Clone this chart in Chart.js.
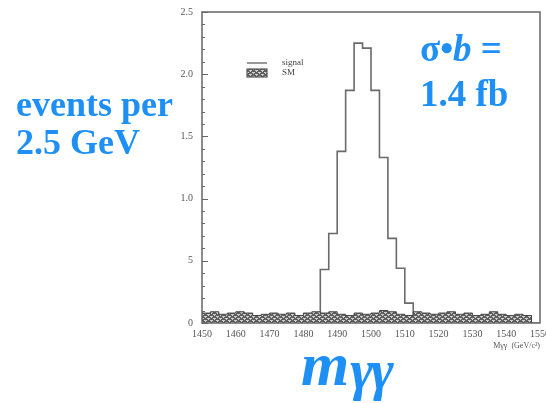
<!DOCTYPE html>
<html>
<head>
<meta charset="utf-8">
<script src="https://cdn.jsdelivr.net/npm/chart.js@4.4.0/dist/chart.umd.min.js"></script>
<style>
  body { margin: 0; background: #fff; }
  #wrap { position: relative; width: 546px; height: 403px; overflow: hidden; }
  #chart { position: absolute; left: 0; top: 0; }
  .note { position: absolute; color: #1e90f5; font-family: "Liberation Serif", "DejaVu Serif", serif; font-weight: bold; white-space: nowrap; }
</style>
</head>
<body>
<div id="wrap">
  <canvas id="chart" width="546" height="403"></canvas>
  <div class="note" style="left:16px; top:85px; font-size:36px; line-height:38px;">events per<br>2.5 GeV</div>
  <div class="note" style="left:420px; top:26px; font-size:37px; line-height:45px;">σ•<i>b</i> =<br>1.4 fb</div>
  <div class="note" style="left:301px; top:331px; font-size:62px; line-height:66px; font-style:italic; letter-spacing:1px;">m<span style="font-size:56px; position:relative; top:4px; letter-spacing:-3px;">γγ</span></div>
</div>
<script>
// histogram binning
const binWidth = 2.5;

// SM background, bins from 1450 to 1550
const smStart = 1450;
const smValues = [0.09, 0.08, 0.09, 0.07, 0.08, 0.09, 0.08, 0.06, 0.07, 0.08,
                  0.07, 0.08, 0.06, 0.08, 0.09, 0.08, 0.09, 0.07, 0.06, 0.08,
                  0.07, 0.08, 0.10, 0.09, 0.07, 0.06, 0.09, 0.08, 0.07, 0.08,
                  0.09, 0.07, 0.08, 0.06, 0.07, 0.09, 0.07, 0.06, 0.07, 0.06];

// signal, bins from 1485 to 1515
const signalStart = 1485;
const signalValues = [0.16, 0.43, 0.72, 1.38, 1.87, 2.25, 2.21, 1.87, 1.33, 0.68, 0.44, 0.16];

const xTickLabels = ["1450", "1460", "1470", "1480", "1490", "1500", "1510", "1520", "1530", "1540", "1550"];
const yTickValues = [0, 0.5, 1, 1.5, 2, 2.5];
const yTickLabels = ["0", "5", "1.0", "1.5", "2.0", "2.5"];

const legendLabels = ["signal", "SM"];

function stepPoints(start, values) {
    const pts = [{ x: start, y: 0 }];
    values.forEach((v, i) => pts.push({ x: start + i * binWidth, y: v }));
    pts.push({ x: start + values.length * binWidth, y: 0 });
    return pts;
}

const canvas = document.getElementById("chart");
const ctx = canvas.getContext("2d");

function makeHatch() {
    const c = document.createElement("canvas");
    c.width = 6;
    c.height = 4;
    const g = c.getContext("2d");
    g.fillStyle = "#5e5e5e";
    g.fillRect(0, 0, 6, 4);
    g.fillStyle = "#cfcfcf";
    g.fillRect(0, 0, 3, 1);
    g.fillRect(3, 2, 3, 1);
    g.fillRect(1, 1, 1, 1);
    g.fillRect(4, 3, 1, 1);
    return ctx.createPattern(c, "repeat");
}
const hatch = makeHatch();

const axisColor = "#666";
const labelFont = { family: "'Liberation Serif', 'DejaVu Serif', serif", size: 10 };

// frame box, inward ticks, legend
const framePlugin = {
    id: "frame",
    afterDatasetsDraw(chart) {
        const a = chart.chartArea;
        const c = chart.ctx;
        const y = chart.scales.y;
        c.save();
        c.strokeStyle = axisColor;
        c.lineWidth = 1.5;
        c.strokeRect(a.left, a.top, a.right - a.left, a.bottom - a.top);

        c.lineWidth = 1;
        for (let i = 0; i <= 25; i++) {
            const py = Math.round(y.getPixelForValue(i / 10)) + 0.5;
            const len = i % 5 === 0 ? 6 : 3;
            c.beginPath();
            c.moveTo(a.left, py);
            c.lineTo(a.left + len, py);
            c.stroke();
        }

        // legend
        const lx = a.left + 45, ly = 63;
        c.strokeStyle = "#555";
        c.lineWidth = 1.2;
        c.beginPath();
        c.moveTo(lx, ly);
        c.lineTo(lx + 20, ly);
        c.stroke();
        c.fillStyle = hatch;
        c.fillRect(lx, ly + 6, 20, 8);
        c.strokeRect(lx, ly + 6, 20, 8);
        c.fillStyle = "#444";
        c.font = "9px 'Liberation Serif', serif";
        c.textBaseline = "middle";
        c.fillText(legendLabels[0], lx + 35, ly);
        c.fillText(legendLabels[1], lx + 35, ly + 10);
        c.restore();
    }
};

const chart = new Chart(ctx, {
    type: "line",
    data: {
        datasets: [
            {
                label: "SM",
                data: stepPoints(smStart, smValues),
                stepped: "after",
                borderColor: "#444",
                borderWidth: 1,
                backgroundColor: hatch,
                fill: "origin",
                pointRadius: 0
            },
            {
                label: "signal",
                data: stepPoints(signalStart, signalValues),
                stepped: "after",
                borderColor: "#6a6a6a",
                borderWidth: 1.6,
                fill: false,
                pointRadius: 0
            }
        ]
    },
    options: {
        responsive: false,
        devicePixelRatio: 1,
        animation: false,
        layout: { padding: { left: 0, top: 12, right: 6, bottom: 0 } },
        plugins: {
            legend: { display: false },
            tooltip: { enabled: false }
        },
        scales: {
            x: {
                type: "linear",
                min: 1450,
                max: 1550,
                ticks: {
                    stepSize: 10,
                    maxRotation: 0,
                    autoSkip: false,
                    padding: 5,
                    color: "#555",
                    font: labelFont,
                    callback: (value, index) => xTickLabels[index]
                },
                grid: { display: false, drawTicks: false, tickLength: 0 },
                border: { display: false },
                title: {
                    display: true,
                    text: "Mγγ  (GeV/c²)",
                    align: "end",
                    color: "#555",
                    font: { family: labelFont.family, size: 8 },
                    padding: { top: 2, bottom: 52 }
                },
                afterFit: (scale) => {
                    scale.height = 80;
                    scale.paddingLeft = 0;
                    scale.paddingRight = 0;
                }
            },
            y: {
                min: 0,
                max: 2.5,
                afterBuildTicks: (scale) => { scale.ticks = yTickValues.map(v => ({ value: v })); },
                ticks: {
                    padding: 9,
                    color: "#555",
                    font: labelFont,
                    callback: (value) => yTickLabels[yTickValues.indexOf(value)]
                },
                grid: { display: false, drawTicks: false, tickLength: 0 },
                border: { display: false },
                afterFit: (scale) => {
                    scale.width = 202;
                    scale.paddingTop = 0;
                    scale.paddingBottom = 0;
                }
            }
        }
    },
    plugins: [framePlugin]
});
</script>
</body>
</html>
